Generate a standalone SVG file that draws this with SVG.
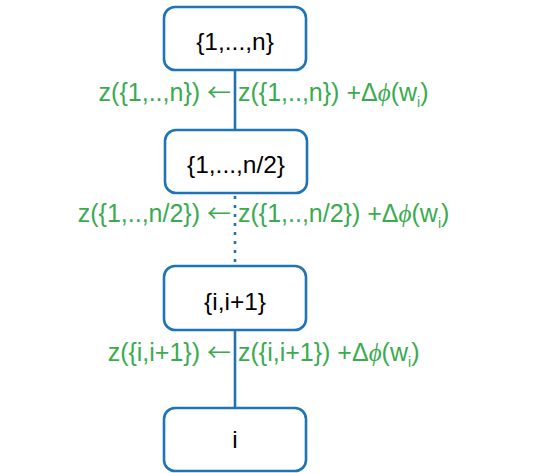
<svg xmlns="http://www.w3.org/2000/svg" width="534" height="473" viewBox="0 0 534 473">
<style>
.box{fill:#fff;stroke:#1f74b6;stroke-width:2.6}
.edge{stroke:#1f74b6;stroke-width:2.6;fill:none}
.dot{stroke-dasharray:3 6}
.nt{font-family:"Liberation Sans",Arial,sans-serif;font-size:24.5px;fill:#000;text-anchor:middle}
.lb{font-family:"Liberation Sans",Arial,sans-serif;font-size:25px;fill:#3aab4f}
.l{text-anchor:end}
.ar{font-family:"Noto Sans CJK JP","DejaVu Sans",sans-serif;font-size:24px}
.ph{font-family:"Liberation Serif",serif;font-style:italic}
.sub{font-size:14px}
</style>
<rect width="534" height="473" fill="#fff"/>
<g id="connectors">
<line class="edge" x1="235" y1="70" x2="235" y2="130"/>
<line class="edge dot" x1="235" y1="196" x2="235" y2="265"/>
<line class="edge" x1="235" y1="330" x2="235" y2="408"/>
</g>
<g id="n1"><rect class="box" x="164" y="7" width="142" height="63" rx="11"/><text class="nt" x="235" y="50">{1,...,n}</text></g>
<g id="n2"><rect class="box" x="165" y="130" width="142" height="63" rx="11"/><text class="nt" x="236" y="173">{1,...,n/2}</text></g>
<g id="n3"><rect class="box" x="164" y="266" width="142" height="64" rx="11"/><text class="nt" x="235" y="310">{i,i+1}</text></g>
<g id="n4"><rect class="box" x="164" y="408" width="142" height="63" rx="11"/><text class="nt" x="235" y="448">i</text></g>
<g id="labels">
<text class="lb l" x="231" y="101">z({1,..,n}) <tspan class="ar">←</tspan></text>
<text class="lb" x="238" y="101">z({1,..,n}) +Δ<tspan class="ph">ϕ</tspan>(w<tspan class="sub" dy="6">i</tspan><tspan dy="-6">)</tspan></text>
<text class="lb l" x="231" y="222">z({1,..,n/2}) <tspan class="ar">←</tspan></text>
<text class="lb" x="238" y="222">z({1,..,n/2}) +Δ<tspan class="ph">ϕ</tspan>(w<tspan class="sub" dy="6">i</tspan><tspan dy="-6">)</tspan></text>
<text class="lb l" x="231" y="361">z({i,i+1}) <tspan class="ar">←</tspan></text>
<text class="lb" x="238" y="361">z({i,i+1}) +Δ<tspan class="ph">ϕ</tspan>(w<tspan class="sub" dy="6">i</tspan><tspan dy="-6">)</tspan></text>
</g>
</svg>
